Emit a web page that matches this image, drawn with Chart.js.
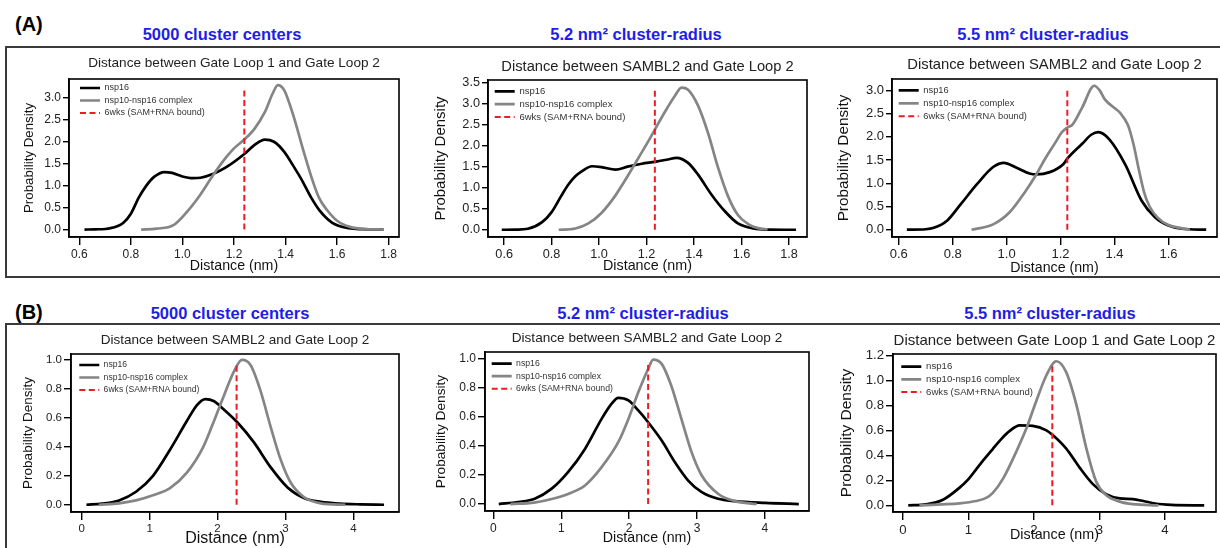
<!DOCTYPE html>
<html>
<head>
<meta charset="utf-8">
<script src="https://cdn.jsdelivr.net/npm/chart.js@4.4.1/dist/chart.umd.min.js"></script>
<style>
body { margin:0; background:#fff; width:1220px; height:548px; overflow:hidden; position:relative; font-family:"Liberation Sans", Arial, sans-serif; }
.frame { position:absolute; border:2px solid #3a3a3a; }
.tag { position:absolute; font-weight:bold; font-size:20px; line-height:1; color:#000; }
.head { position:absolute; font-weight:bold; font-size:16.5px; line-height:1; color:#1e1ee6; transform:translateX(-50%); white-space:nowrap; }
canvas { position:absolute; }
</style>
</head>
<body>
<div class="frame" style="left:5px;top:46px;width:1230px;height:228px"></div>
<div class="frame" style="left:5px;top:323px;width:1230px;height:300px"></div>
<div class="tag" style="left:15px;top:14px">(A)</div>
<div class="tag" style="left:15px;top:302px">(B)</div>
<div class="head" style="left:222px;top:26px">5000 cluster centers</div>
<div class="head" style="left:636px;top:26px">5.2 nm² cluster-radius</div>
<div class="head" style="left:1043px;top:26px">5.5 nm² cluster-radius</div>
<div class="head" style="left:230px;top:305px">5000 cluster centers</div>
<div class="head" style="left:643px;top:305px">5.2 nm² cluster-radius</div>
<div class="head" style="left:1050px;top:305px">5.5 nm² cluster-radius</div>

<script>
// series names
var seriesNames = ['nsp16', 'nsp10-nsp16 complex', '6wks (SAM+RNA bound)'];

// (A) 5000 cluster centers - Gate Loop 1 / Gate Loop 2
var a1NspX = [0.62,0.66,0.72,0.77,0.80,0.83,0.86,0.89,0.93,0.96,1.00,1.04,1.07,1.12,1.17,1.24,1.28,1.32,1.355,1.395,1.43,1.46,1.50,1.53,1.58,1.645,1.70,1.78];
var a1NspY = [0,0.004,0.03,0.15,0.36,0.72,1.0,1.2,1.31,1.29,1.21,1.17,1.18,1.27,1.42,1.72,1.93,2.05,2.0,1.77,1.45,1.16,0.72,0.45,0.16,0.03,0.008,0];
var a1CpxX = [0.84,0.90,0.965,1.017,1.07,1.12,1.17,1.20,1.24,1.28,1.32,1.35,1.37,1.395,1.43,1.47,1.50,1.53,1.56,1.60,1.65,1.71,1.78];
var a1CpxY = [0,0.02,0.1,0.4,0.8,1.25,1.65,1.85,2.05,2.3,2.68,3.1,3.29,3.17,2.6,1.78,1.2,0.72,0.45,0.2,0.06,0.01,0];

// (A) 5.2 nm2 - SAMBL2 / Gate Loop 2
var a2NspX = [0.59,0.65,0.70,0.76,0.80,0.84,0.87,0.90,0.93,0.97,1.01,1.07,1.12,1.18,1.235,1.29,1.326,1.375,1.417,1.473,1.53,1.585,1.65,1.72,1.83];
var a2NspY = [0,0.004,0.025,0.18,0.42,0.8,1.07,1.27,1.4,1.51,1.49,1.43,1.5,1.57,1.615,1.67,1.71,1.59,1.31,0.84,0.44,0.15,0.03,0.004,0];
var a2CpxX = [0.83,0.90,0.955,1.01,1.067,1.123,1.165,1.207,1.235,1.277,1.319,1.347,1.375,1.417,1.459,1.50,1.543,1.585,1.63,1.67,1.71];
var a2CpxY = [0,0.03,0.15,0.4,0.8,1.3,1.7,2.1,2.38,2.8,3.18,3.38,3.33,2.95,2.3,1.5,0.8,0.35,0.13,0.04,0.01];

// (A) 5.5 nm2 - SAMBL2 / Gate Loop 2
var a3NspX = [0.63,0.70,0.73,0.78,0.83,0.89,0.95,0.99,1.035,1.085,1.11,1.16,1.21,1.225,1.28,1.315,1.34,1.38,1.44,1.50,1.55,1.60,1.65,1.74];
var a3NspY = [0,0.01,0.04,0.2,0.55,0.98,1.35,1.44,1.34,1.21,1.19,1.24,1.41,1.53,1.85,2.05,2.1,1.95,1.4,0.63,0.27,0.09,0.02,0];
var a3CpxX = [0.87,0.95,1.01,1.07,1.11,1.145,1.18,1.205,1.225,1.245,1.28,1.325,1.345,1.365,1.40,1.42,1.45,1.47,1.49,1.51,1.53,1.56,1.60,1.65,1.68];
var a3CpxY = [0,0.115,0.37,0.83,1.19,1.55,1.87,2.1,2.2,2.27,2.63,3.1,3.0,2.8,2.62,2.52,2.25,1.85,1.3,0.8,0.5,0.26,0.1,0.03,0];

// (B) 5000 cluster centers - SAMBL2 / Gate Loop 2
var b1NspX = [0.07,0.3,0.55,0.8,1.05,1.3,1.55,1.7,1.82,1.95,2.04,2.29,2.53,2.78,3.03,3.28,3.52,3.8,4.1,4.45];
var b1NspY = [0,0.008,0.03,0.09,0.2,0.38,0.58,0.69,0.73,0.715,0.68,0.57,0.434,0.26,0.12,0.045,0.02,0.008,0.003,0];
var b1CpxX = [0.25,0.55,0.8,1.05,1.3,1.545,1.79,1.94,2.09,2.24,2.36,2.485,2.63,2.78,2.93,3.08,3.28,3.52,3.88];
var b1CpxY = [0,0.01,0.03,0.065,0.115,0.22,0.4,0.57,0.75,0.92,1.0,0.965,0.79,0.54,0.31,0.15,0.05,0.01,0];

// (B) 5.2 nm2 - SAMBL2 / Gate Loop 2
var b2NspX = [0.08,0.37,0.61,0.86,1.10,1.35,1.595,1.74,1.84,1.99,2.135,2.28,2.48,2.675,2.87,3.07,3.31,3.56,4.0,4.5];
var b2NspY = [0,0.014,0.037,0.106,0.22,0.38,0.587,0.69,0.732,0.714,0.645,0.564,0.438,0.288,0.162,0.082,0.036,0.02,0.008,0];
var b2CpxX = [0.25,0.6,0.86,1.10,1.35,1.595,1.84,1.99,2.135,2.28,2.355,2.48,2.62,2.77,2.92,3.07,3.31,3.56,3.88];
var b2CpxY = [0,0.01,0.035,0.07,0.128,0.254,0.426,0.587,0.77,0.931,0.996,0.966,0.817,0.587,0.358,0.197,0.071,0.02,0];

// (B) 5.5 nm2 - Gate Loop 1 / Gate Loop 2
var b3NspX = [0.08,0.35,0.61,0.86,1.0,1.12,1.25,1.37,1.5,1.63,1.78,1.98,2.19,2.29,2.49,2.70,2.90,3.10,3.31,3.51,3.67,3.85,4.1,4.6];
var b3NspY = [0,0.008,0.045,0.14,0.21,0.29,0.375,0.45,0.53,0.595,0.64,0.636,0.6,0.56,0.455,0.3,0.17,0.09,0.056,0.05,0.035,0.015,0.004,0];
var b3CpxX = [0.25,0.6,0.86,1.117,1.27,1.372,1.53,1.73,1.88,2.03,2.19,2.34,2.49,2.65,2.80,2.95,3.10,3.31,3.51,3.9];
var b3CpxY = [0,0.008,0.016,0.035,0.06,0.1,0.216,0.43,0.61,0.827,1.04,1.152,1.067,0.8,0.455,0.19,0.083,0.03,0.01,0];

// 6wks reference distance and the height of its dashed line
var refX = [1.24, 1.235, 1.225, 2.28, 2.28, 2.28];
var refTop = [3.22, 3.33, 3.05, 0.97, 0.98, 1.13];

var plotTitles = [
  'Distance between Gate Loop 1 and Gate Loop 2',
  'Distance between SAMBL2 and Gate Loop 2',
  'Distance between SAMBL2 and Gate Loop 2',
  'Distance between SAMBL2 and Gate Loop 2',
  'Distance between SAMBL2 and Gate Loop 2',
  'Distance between Gate Loop 1 and Gate Loop 2'
];

// axis ranges and tick steps
var xMin = [0.56, 0.532, 0.575, -0.157, -0.123, -0.153];
var xMax = [1.84, 1.876, 1.78, 4.67, 4.65, 4.78];
var yMin = [-0.17, -0.172, -0.157, -0.05, -0.048, -0.053];
var yMax = [3.43, 3.56, 3.245, 1.041, 1.048, 1.21];
var xStep = [0.2, 0.2, 0.2, 1, 1, 1];
var yStep = [0.5, 0.5, 0.5, 0.2, 0.2, 0.2];

var nspX = [a1NspX, a2NspX, a3NspX, b1NspX, b2NspX, b3NspX];
var nspY = [a1NspY, a2NspY, a3NspY, b1NspY, b2NspY, b3NspY];
var cpxX = [a1CpxX, a2CpxX, a3CpxX, b1CpxX, b2CpxX, b3CpxX];
var cpxY = [a1CpxY, a2CpxY, a3CpxY, b1CpxY, b2CpxY, b3CpxY];

// page placement of each panel (plot box, text centres, sizes)
var layoutInfo = [
  {L:69,  T:79,  R:399,  B:237, tY:63,    tS:13.6, yX:28.8,  yS:13.3, xY:266.7, xS:14.2, tick:12,   tickY:6, leg:9,   lp:3.5, dx:7.5, dy:1},
  {L:488, T:80,  R:807,  B:237, tY:66.7,  tS:14.7, yX:441.3, yS:15,   xY:266.7, xS:14.3, tick:12.7, tickY:6, leg:9.5, lp:3.3, dx:3.4, dy:3.3},
  {L:892, T:79,  R:1217, B:237, tY:65,    tS:14.8, yX:843.8, yS:15.3, xY:268,   xS:14.2, tick:13,   tickY:6, leg:9.3, lp:3.7, dx:3,   dy:3},
  {L:71,  T:354, R:399,  B:512, tY:340,   tS:13.5, yX:28.3,  yS:13.5, xY:538.3, xS:16,   tick:11.5, tickY:7, leg:8.6, lp:3.9, dx:4.4, dy:2.8},
  {L:485, T:352, R:809,  B:511, tY:338.3, tS:13.6, yX:441.3, yS:13.7, xY:538.3, xS:14.2, tick:12,   tickY:7, leg:8.7, lp:3.8, dx:2.9, dy:3.5},
  {L:893, T:354, R:1216, B:512, tY:340.7, tS:15,   yX:846.2, yS:15.5, xY:535,   xS:14.3, tick:13.2, tickY:7, leg:9.6, lp:3.1, dx:5.2, dy:4.8}
];

Chart.defaults.font.family = '"Liberation Sans", Arial, sans-serif';
Chart.defaults.color = '#222';
Chart.defaults.animation = false;

var boxFrame = {
  id: 'boxFrame',
  afterDraw: function(chart) {
    var a = chart.chartArea, c = chart.ctx;
    c.save();
    c.strokeStyle = '#000';
    c.lineWidth = 1.6;
    c.strokeRect(a.left, a.top, a.right - a.left, a.bottom - a.top);
    c.restore();
  }
};

// put the legend inside the plot box, near its top left corner
var nudgeLegend = {
  id: 'nudgeLegend',
  afterLayout: function(chart, args, opts) {
    var lg = chart.legend;
    if (!lg) return;
    var w = lg.width, h = lg.height;
    lg.left = chart.chartArea.left + opts.dx;
    lg.top = chart.chartArea.top + opts.dy;
    lg.right = lg.left + w;
    lg.bottom = lg.top + h;
  }
};

function toPoints(xs, ys) {
  return xs.map(function(x, i) { return {x: x, y: ys[i]}; });
}

function decimals(step) {
  return step < 1 ? 1 : 0;
}

function drawPanel(i) {
  var p = layoutInfo[i];
  var left = Math.round(p.yX - 0.6 * p.yS);
  var top = Math.round(p.tY - 0.6 * p.tS);
  var bottom = Math.round(p.xY + 0.6 * p.xS);
  var rp = 14;
  var yw = p.L - left;
  var xh = bottom - p.B;
  var pb = p.T - top - 1.2 * p.tS;

  var cv = document.createElement('canvas');
  cv.width = p.R + rp - left;
  cv.height = bottom - top;
  cv.style.left = left + 'px';
  cv.style.top = top + 'px';
  document.body.appendChild(cv);

  var xd = decimals(xStep[i]), yd = decimals(yStep[i]);

  new Chart(cv, {
    type: 'line',
    data: {
      datasets: [
        {
          label: seriesNames[0],
          data: toPoints(nspX[i], nspY[i]),
          borderColor: '#000000',
          borderWidth: 2.7,
          pointRadius: 0,
          cubicInterpolationMode: 'monotone',
          order: 2
        },
        {
          label: seriesNames[1],
          data: toPoints(cpxX[i], cpxY[i]),
          borderColor: '#858585',
          borderWidth: 2.7,
          pointRadius: 0,
          cubicInterpolationMode: 'monotone',
          order: 1
        },
        {
          label: seriesNames[2],
          data: [{x: refX[i], y: 0}, {x: refX[i], y: refTop[i]}],
          borderColor: '#ec1c24',
          borderWidth: 2,
          borderDash: [6, 3.5],
          pointRadius: 0,
          order: 0
        }
      ]
    },
    options: {
      responsive: false,
      devicePixelRatio: 1,
      events: [],
      layout: { padding: {left: 0, top: 0, right: rp, bottom: 0} },
      scales: {
        x: {
          type: 'linear',
          min: xMin[i],
          max: xMax[i],
          afterFit: function(s) { s.height = xh; },
          ticks: {
            stepSize: xStep[i],
            includeBounds: false,
            autoSkip: false,
            maxRotation: 0,
            padding: 2,
            color: '#222',
            font: {size: p.tick},
            callback: function(v) { return Number(v).toFixed(xd); }
          },
          grid: { drawOnChartArea: false, drawTicks: true, tickLength: 8, color: '#000', lineWidth: 1.4 },
          border: { display: true, color: '#000', width: 1.6 },
          title: { display: true, text: 'Distance (nm)', color: '#111', font: {size: p.xS}, padding: 0 }
        },
        y: {
          min: yMin[i],
          max: yMax[i],
          afterFit: function(s) { s.width = yw; },
          ticks: {
            stepSize: yStep[i],
            includeBounds: false,
            autoSkip: false,
            padding: 2,
            color: '#222',
            font: {size: p.tick},
            callback: function(v) { return Number(v).toFixed(yd); }
          },
          grid: { drawOnChartArea: false, drawTicks: true, tickLength: p.tickY, color: '#000', lineWidth: 1.4 },
          border: { display: true, color: '#000', width: 1.6 },
          title: { display: true, text: 'Probability Density', color: '#111', font: {size: p.yS}, padding: 0 }
        }
      },
      plugins: {
        title: {
          display: true,
          text: plotTitles[i],
          fullSize: false,
          color: '#222',
          font: {size: p.tS, weight: 'normal'},
          padding: {top: 0, bottom: pb}
        },
        legend: {
          position: 'chartArea',
          align: 'start',
          labels: {
            usePointStyle: true,
            pointStyle: 'line',
            pointStyleWidth: 20,
            padding: p.lp,
            color: '#333',
            font: {size: p.leg},
            sort: function(a, b) { return a.datasetIndex - b.datasetIndex; },
            generateLabels: function(chart) {
              var items = Chart.defaults.plugins.legend.labels.generateLabels(chart);
              items.forEach(function(it) {
                var ds = chart.data.datasets[it.datasetIndex];
                it.lineWidth = ds.borderWidth;
                it.strokeStyle = ds.borderColor;
                it.lineDash = ds.borderDash || [];
              });
              return items;
            }
          }
        },
        tooltip: { enabled: false },
        nudgeLegend: { dx: p.dx, dy: p.dy }
      }
    },
    plugins: [boxFrame, nudgeLegend]
  });
}

for (var k = 0; k < layoutInfo.length; k++) {
  drawPanel(k);
}
</script>
</body>
</html>
